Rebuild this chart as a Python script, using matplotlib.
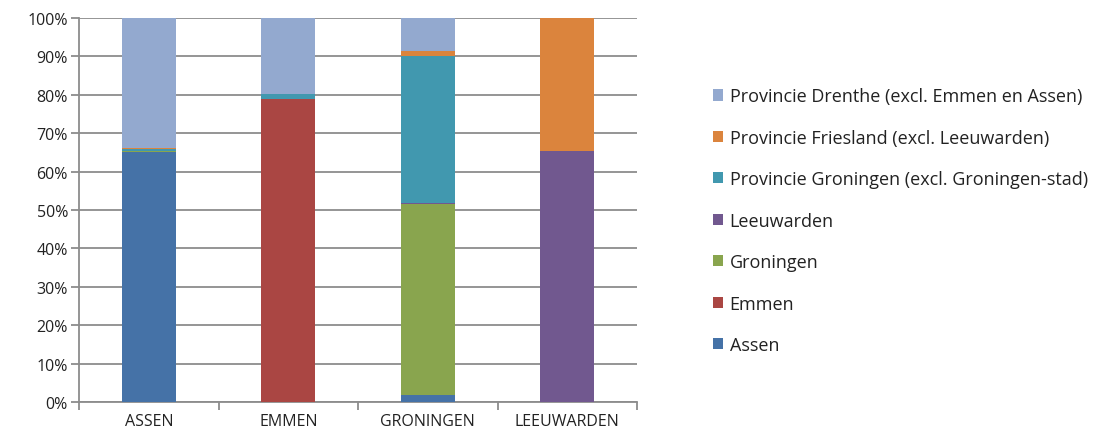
import matplotlib
matplotlib.use("Agg")
import matplotlib.pyplot as plt
from matplotlib.ticker import PercentFormatter, FixedLocator

plt.rcParams['font.family'] = ['Open Sans', 'DejaVu Sans']

cities = ['ASSEN', 'EMMEN', 'GRONINGEN', 'LEEUWARDEN']

# share (%) per origin for each city, bottom to top
assen = [65.2, 0.0, 1.8, 0.0]
emmen = [0.0, 78.9, 0.0, 0.0]
groningen = [0.2, 0.0, 49.7, 0.0]
leeuwarden = [0.0, 0.0, 0.3, 65.4]
prov_groningen = [0.4, 1.2, 38.2, 0.0]
prov_friesland = [0.4, 0.0, 1.5, 34.6]
prov_drenthe = [33.8, 19.9, 8.5, 0.0]

series = [
    ('Assen', assen, '#4572A7'),
    ('Emmen', emmen, '#AA4643'),
    ('Groningen', groningen, '#89A54E'),
    ('Leeuwarden', leeuwarden, '#71588F'),
    ('Provincie Groningen (excl. Groningen-stad)', prov_groningen, '#4198AF'),
    ('Provincie Friesland (excl. Leeuwarden)', prov_friesland, '#DB843D'),
    ('Provincie Drenthe (excl. Emmen en Assen)', prov_drenthe, '#93A9CF'),
]

fig = plt.figure(figsize=(11.05, 4.39), dpi=100)
ax = fig.add_axes([0.0715, 0.082, 0.505, 0.8747])

x = list(range(len(cities)))
bottom = [0.0] * len(cities)
handles = []
for name, vals, col in series:
    h = ax.bar(x, vals, bottom=bottom, width=0.39, color=col, label=name, zorder=3)
    handles.append(h)
    bottom = [b + v for b, v in zip(bottom, vals)]

ax.set_xlim(-0.5, len(cities) - 0.5)
ax.set_ylim(0, 100)
ax.yaxis.set_major_locator(FixedLocator(range(0, 101, 10)))
ax.yaxis.set_major_formatter(PercentFormatter(decimals=0))
ax.yaxis.grid(True, color='#8c8c8c', linewidth=1.3, zorder=0)

ax.set_xticks(x)
ax.set_xticklabels(cities)
ax.set_xticks([i + 0.5 for i in range(-1, len(cities))], minor=True)
ax.tick_params(axis='x', which='major', length=0, pad=8, labelsize=11.5, labelcolor='#222222')
ax.tick_params(axis='x', which='minor', length=6, color='#8c8c8c', width=1.3)
ax.tick_params(axis='y', length=6, color='#8c8c8c', width=1.3, labelsize=11.5,
               labelcolor='#222222', pad=2)

for s in ['top', 'right']:
    ax.spines[s].set_visible(False)
for s in ['left', 'bottom']:
    ax.spines[s].set_color('#8c8c8c')
    ax.spines[s].set_linewidth(1.3)

leg = fig.legend(handles[::-1], [s[0] for s in series[::-1]],
                 loc='center left', bbox_to_anchor=(0.645, 0.495),
                 frameon=False, fontsize=13, labelspacing=1.3,
                 handlelength=0.58, handleheight=0.58, handletextpad=0.35,
                 borderpad=0, borderaxespad=0)
for t in leg.get_texts():
    t.set_color('#222222')

fig.savefig('out.png', dpi=100)
